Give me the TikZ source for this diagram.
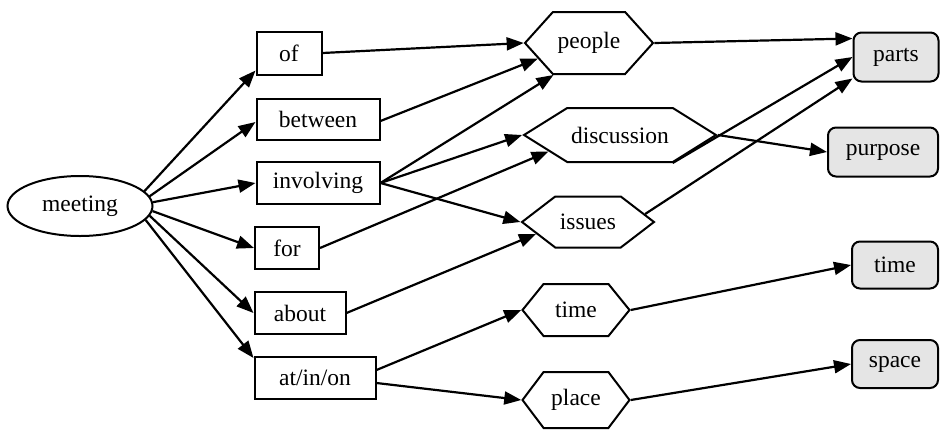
\documentclass[tikz,border=0pt]{standalone}
\usepackage{fontspec}
\setmainfont{Liberation Serif}
\usetikzlibrary{shapes.geometric,shapes.symbols,arrows.meta}
\begin{document}
\begin{tikzpicture}[x=1pt,y=-1pt,
  every node/.style={font=\fontsize{23.5}{28}\selectfont, line width=2pt, inner sep=0pt},
  oval/.style={draw, ellipse, minimum width=145pt, minimum height=60pt},
  relbox/.style={draw, rectangle, minimum height=42pt},
  hexnode/.style={draw, signal, signal to=east and west},
  catbox/.style={draw, rectangle, rounded corners=8pt, fill=black!10, minimum height=48pt},
  conn/.style={line width=2.2pt, -{Triangle[length=17pt,width=13pt]}}
]
\useasboundingbox (0,0) rectangle (940,429);
% left
\node[oval] (meeting) at (80,206) {meeting};
% relation boxes
\node[relbox, minimum width=65pt, minimum height=43pt] (of) at (289,53) {of};
\node[relbox, minimum width=123pt, minimum height=41pt] (between) at (318,119) {between};
\node[relbox, minimum width=123pt] (involving) at (318,183) {involving};
\node[relbox, minimum width=64pt] (for) at (287,248) {for};
\node[relbox, minimum width=91pt] (about) at (300,313) {about};
\node[relbox, minimum width=121pt] (atinon) at (315,378) {at/in/on};
% hexagons
\node[hexnode, minimum width=128pt, minimum height=62pt, signal pointer angle=96] (people) at (589,43) {people};
\node[hexnode, minimum width=192pt, minimum height=54pt, signal pointer angle=64] (discussion) at (620,135) {discussion};
\node[hexnode, minimum width=132pt, minimum height=51pt, signal pointer angle=75] (issues) at (588,222) {issues};
\node[hexnode, minimum width=107pt, minimum height=52pt, signal pointer angle=102] (timehex) at (576,310) {time};
\node[hexnode, minimum width=107pt, minimum height=56pt, signal pointer angle=106] (place) at (576,400) {place};
% category boxes
\node[catbox, minimum width=85pt, minimum height=49pt] (parts) at (896,57) {parts};
\node[catbox, minimum width=110pt, minimum height=49pt] (purpose) at (883,152) {purpose};
\node[catbox, minimum width=86pt, minimum height=47pt] (timebox) at (895,265) {time};
\node[catbox, minimum width=86pt] (space) at (895,364) {space};
% connectors from meeting
\draw[conn] (meeting.13) -- ([yshift=5pt]of.south west);
\draw[conn] (meeting.8) -- ([yshift=-3pt]between.west);
\draw[conn] (meeting.3) -- (involving.west);
\draw[conn] (meeting.-4) -- (for.west);
\draw[conn] (meeting.-8) -- (about.west);
\draw[conn] (meeting.-12) -- ([yshift=-2pt]atinon.north west);
% middle
\draw[conn] (of.east) -- (people.west);
\draw[conn] ([yshift=-2pt]between.east) -- (people.197);
\draw[conn] (involving.east) -- (people.222);
\draw[conn] (involving.east) -- (discussion.west);
\draw[conn] (involving.east) -- (issues.west);
\draw[conn] (for.east) -- (discussion.193);
\draw[conn] (about.east) -- (issues.193);
\draw[conn] ([yshift=8pt]atinon.east) -- (timehex.west);
\draw[conn] ([yshift=-5pt]atinon.east) -- (place.west);
% right
\draw[conn] (people.east) -- ([yshift=-7pt]parts.north west);
\draw[conn] (discussion.-28) -- (parts.west);
\draw[conn] (issues.8) -- ([yshift=4pt]parts.south west);
\draw[conn] (discussion.east) -- (purpose.west);
\draw[conn] (timehex.east) -- (timebox.west);
\draw[conn] (place.east) -- (space.west);
\end{tikzpicture}
\end{document}
